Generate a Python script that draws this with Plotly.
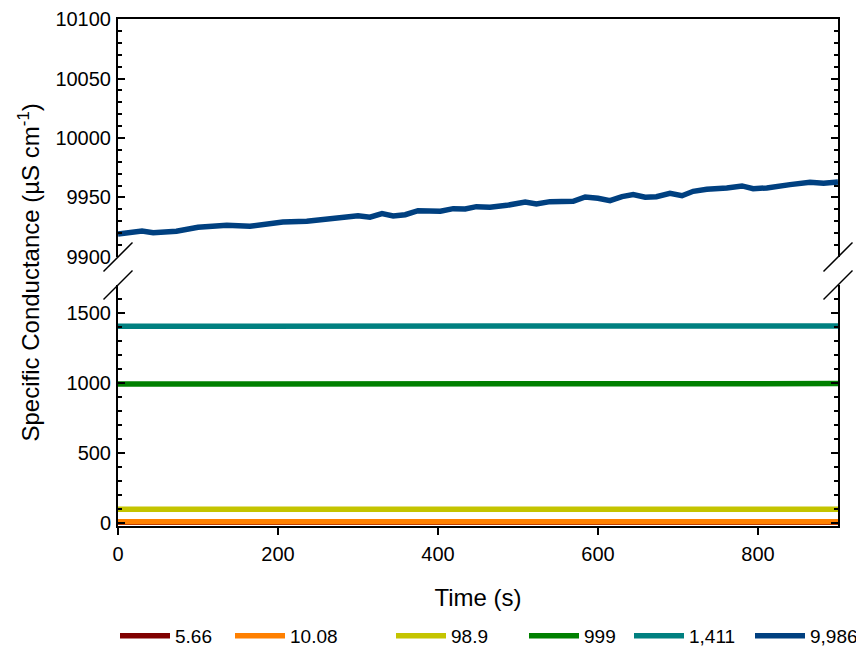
import plotly.graph_objects as go

# ---------------- data ----------------
time_flat = [0, 100, 200, 300, 400, 500, 600, 700, 800, 900]
sc_5_66 = [5.6, 5.7, 5.6, 5.7, 5.7, 5.6, 5.7, 5.6, 5.7, 5.7]
sc_10_08 = [10.1, 10.1, 10.0, 10.1, 10.1, 10.1, 10.0, 10.1, 10.1, 10.1]
sc_98_9 = [99.0, 99.1, 99.0, 99.0, 99.1, 99.0, 99.0, 99.1, 99.0, 99.0]
sc_999 = [993, 993, 994, 994, 994, 995, 995, 995, 996, 996]
sc_1411 = [1405, 1405, 1406, 1406, 1407, 1407, 1407, 1408, 1408, 1408]

time_9986 = [0, 30, 44, 73, 100, 136, 165, 206, 236, 286, 300, 315, 330, 344, 359,
             375, 403, 419, 434, 448, 465, 486, 509, 523, 540, 569, 584, 600, 615,
             630, 644, 659, 673, 690, 705, 719, 736, 761, 780, 794, 811, 840, 865,
             882, 900]
sc_9986 = [9919.3, 9921.8, 9920.4, 9921.6, 9925.0, 9926.6, 9925.8, 9929.4, 9930.0,
           9932.8, 9934.7, 9933.4, 9936.4, 9934.5, 9935.5, 9938.9, 9938.4, 9940.6,
           9940.3, 9942.3, 9941.8, 9943.4, 9946.2, 9944.5, 9946.5, 9946.8, 9950.4,
           9949.3, 9947.3, 9950.7, 9952.4, 9950.2, 9950.7, 9953.5, 9951.5, 9955.2,
           9956.9, 9958.0, 9959.7, 9957.4, 9958.0, 9960.8, 9962.8, 9961.9, 9963.0]

series_names = ["5.66", "10.08", "98.9", "999", "1,411", "9,986"]
series_colors = ["#800000", "#ff8000", "#c4c400", "#008000", "#008080", "#004080"]

x_ticks = [0, 200, 400, 600, 800]
upper_ticks = [9900, 9950, 10000, 10050, 10100]
lower_ticks = [0, 500, 1000, 1500]

# ---------------- layout geometry ----------------
# the page body adds an 8px margin, so the figure is 8px smaller and shifted
OFF = 8
W, H = 864 - OFF, 649 - OFF
ML, MR, MT, MB = 118 - OFF, 26, 19 - OFF, 123
PW, PH = W - ML - MR, H - MT - MB
upper_dom = [0.5306, 1.0]
lower_dom = [0.0, 0.4753]
FONT = "Liberation Sans, Arial, sans-serif"

fig = go.Figure()

lower_series = [sc_5_66, sc_10_08, sc_98_9, sc_999, sc_1411]
for i, vals in enumerate(lower_series):
    fig.add_trace(go.Scatter(
        x=time_flat, y=vals, mode="lines", name=series_names[i],
        line=dict(color=series_colors[i], width=5.5),
        xaxis="x", yaxis="y",
        legend="legend" if i == 0 else f"legend{i+1}",
    ))

fig.add_trace(go.Scatter(
    x=time_9986, y=sc_9986, mode="lines", name=series_names[5],
    line=dict(color=series_colors[5], width=5.5),
    xaxis="x2", yaxis="y2", legend="legend6",
))

axis_common = dict(
    showgrid=False, zeroline=False, showline=True, linecolor="black",
    linewidth=2, tickcolor="black", automargin=False,
    tickfont=dict(family=FONT, size=20, color="black"),
)

# legend positions (text start pixel in reference, relative to plot-area left 118)
text_starts = [176, 291, 452, 585, 690]
legend_layouts = {}
for i, ts in enumerate(text_starts):
    key = "legend" if i == 0 else f"legend{i+1}"
    legend_layouts[key] = dict(
        x=(ts - 61 - 118) / PW, xanchor="left",
        y=-(636 - 526) / PH, yanchor="middle",
        orientation="h", itemwidth=50,
        bgcolor="rgba(0,0,0,0)", borderwidth=0,
        font=dict(family=FONT, size=19, color="black"),
    )
# last legend anchored on its right edge so it is not clipped by the page edge
legend_layouts["legend6"] = dict(
    x=(863 - 118) / PW, xanchor="right",
    y=-(636 - 526) / PH, yanchor="middle",
    orientation="h", itemwidth=50,
    bgcolor="rgba(0,0,0,0)", borderwidth=0,
    font=dict(family=FONT, size=19, color="black"),
)

fig.update_layout(
    width=W, height=H,
    margin=dict(l=ML, r=MR, t=MT, b=MB, autoexpand=False),
    paper_bgcolor="white", plot_bgcolor="white",
    font=dict(family=FONT, color="black"),
    xaxis=dict(
        **axis_common, domain=[0, 1], anchor="y", range=[0, 900],
        tickvals=x_ticks, ticks="outside", ticklen=7, tickwidth=1.5,
        ticklabelstandoff=2,
        title=dict(text="Time (s)", font=dict(family=FONT, size=24, color="black"),
                   standoff=25),
    ),
    xaxis2=dict(
        **axis_common, domain=[0, 1], anchor="y2", range=[0, 900], side="top",
        matches="x", showticklabels=False, ticks="",
    ),
    yaxis=dict(
        **axis_common, domain=lower_dom, anchor="x", range=[-21, 1700],
        tickvals=lower_ticks, ticks="inside", ticklen=7, tickwidth=1.5,
        tickformat="d", mirror="ticks", ticklabelstandoff=1,
        minor=dict(dtick=100, ticks="inside", ticklen=4, tickwidth=1.5,
                   tickcolor="black", showgrid=False),
    ),
    yaxis2=dict(
        **axis_common, domain=upper_dom, anchor="x2", range=[9900, 10100],
        tickvals=upper_ticks, ticks="inside", ticklen=7, tickwidth=1.5,
        tickformat="d", mirror="ticks", ticklabelstandoff=1,
        minor=dict(dtick=10, ticks="inside", ticklen=4, tickwidth=1.5,
                   tickcolor="black", showgrid=False),
    ),
    showlegend=True,
    **legend_layouts,
)

# y-axis title centred across both panels
fig.add_annotation(
    text="Specific Conductance (µS cm<sup>-1</sup>)",
    xref="paper", yref="paper", x=-(118 - 28) / PW, y=0.5,
    xanchor="center", yanchor="middle", textangle=-90, showarrow=False,
    font=dict(family=FONT, size=24, color="black"),
)

# axis break marks
half_x = 14.5 / PW
half_y = 14.5 / PH
for xc in [0.0, 1.0]:
    for yc in [upper_dom[0], lower_dom[1]]:
        fig.add_shape(
            type="line", xref="paper", yref="paper",
            x0=xc - half_x, y0=yc - half_y, x1=xc + half_x, y1=yc + half_y,
            line=dict(color="black", width=1.5),
        )

fig.write_html("out.html")
